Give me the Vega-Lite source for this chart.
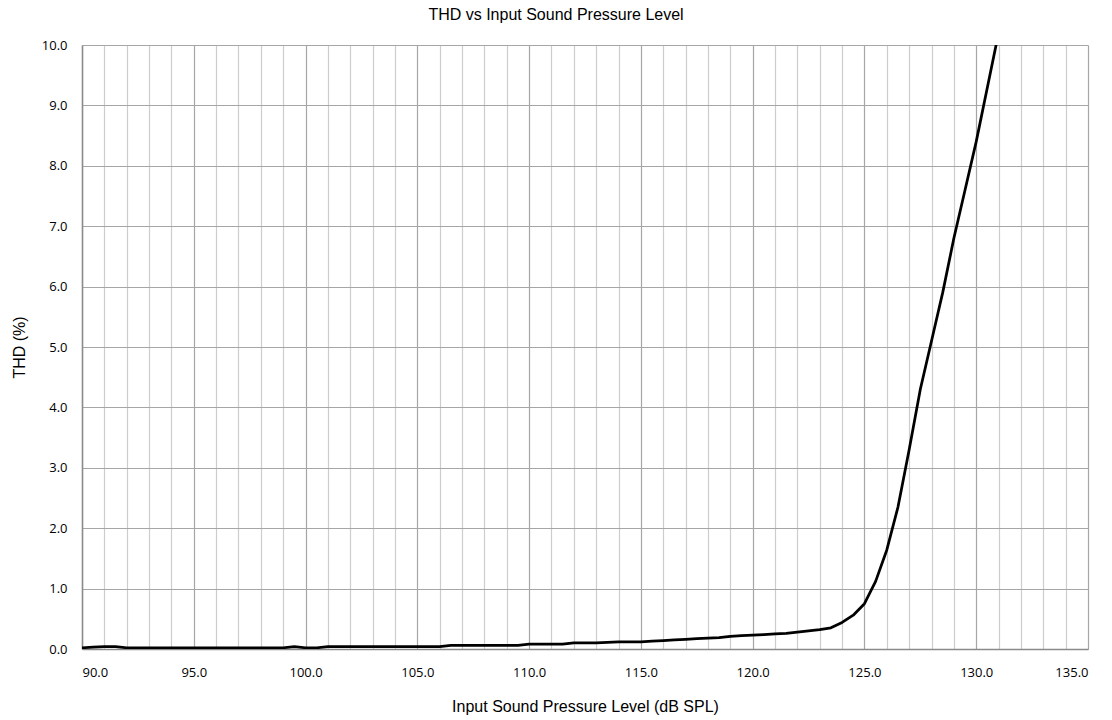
{
  "$schema": "https://vega.github.io/schema/vega-lite/v6.json",
  "width": 1006,
  "height": 604,
  "autosize": {"type": "none"},
  "padding": {"left": 82, "top": 45, "right": 24, "bottom": 71},
  "background": "white",
  "title": {
    "text": "THD vs Input Sound Pressure Level",
    "font": "Liberation Sans",
    "fontSize": 16,
    "fontWeight": "normal",
    "color": "black",
    "anchor": "middle",
    "frame": "group",
    "dx": -29,
    "offset": 16
  },
  "config": {
    "view": {"stroke": null},
    "axis": {
      "labelFont": "Open Sans",
      "labelFontSize": 13,
      "labelColor": "black",
      "titleFont": "Liberation Sans",
      "titleFontSize": 16,
      "titleFontWeight": "normal",
      "titleColor": "black",
      "ticks": false,
      "domainColor": "#8a8a8a",
      "domainWidth": 1.5
    }
  },
  "data": {
    "values": [
      {"spl": 90.0, "thd": 0.02},
      {"spl": 90.5, "thd": 0.03},
      {"spl": 91.0, "thd": 0.04},
      {"spl": 91.5, "thd": 0.04},
      {"spl": 92.0, "thd": 0.02},
      {"spl": 92.5, "thd": 0.02},
      {"spl": 93.0, "thd": 0.02},
      {"spl": 93.5, "thd": 0.02},
      {"spl": 94.0, "thd": 0.02},
      {"spl": 94.5, "thd": 0.02},
      {"spl": 95.0, "thd": 0.02},
      {"spl": 95.5, "thd": 0.02},
      {"spl": 96.0, "thd": 0.02},
      {"spl": 96.5, "thd": 0.02},
      {"spl": 97.0, "thd": 0.02},
      {"spl": 97.5, "thd": 0.02},
      {"spl": 98.0, "thd": 0.02},
      {"spl": 98.5, "thd": 0.02},
      {"spl": 99.0, "thd": 0.02},
      {"spl": 99.5, "thd": 0.04},
      {"spl": 100.0, "thd": 0.02},
      {"spl": 100.5, "thd": 0.02},
      {"spl": 101.0, "thd": 0.04},
      {"spl": 101.5, "thd": 0.04},
      {"spl": 102.0, "thd": 0.04},
      {"spl": 102.5, "thd": 0.04},
      {"spl": 103.0, "thd": 0.04},
      {"spl": 103.5, "thd": 0.04},
      {"spl": 104.0, "thd": 0.04},
      {"spl": 104.5, "thd": 0.04},
      {"spl": 105.0, "thd": 0.04},
      {"spl": 105.5, "thd": 0.04},
      {"spl": 106.0, "thd": 0.04},
      {"spl": 106.5, "thd": 0.06},
      {"spl": 107.0, "thd": 0.06},
      {"spl": 107.5, "thd": 0.06},
      {"spl": 108.0, "thd": 0.06},
      {"spl": 108.5, "thd": 0.06},
      {"spl": 109.0, "thd": 0.06},
      {"spl": 109.5, "thd": 0.06},
      {"spl": 110.0, "thd": 0.08},
      {"spl": 110.5, "thd": 0.08},
      {"spl": 111.0, "thd": 0.08},
      {"spl": 111.5, "thd": 0.08},
      {"spl": 112.0, "thd": 0.10},
      {"spl": 112.5, "thd": 0.10},
      {"spl": 113.0, "thd": 0.10},
      {"spl": 113.5, "thd": 0.11},
      {"spl": 114.0, "thd": 0.12},
      {"spl": 114.5, "thd": 0.12},
      {"spl": 115.0, "thd": 0.12},
      {"spl": 115.5, "thd": 0.13},
      {"spl": 116.0, "thd": 0.14},
      {"spl": 116.5, "thd": 0.15},
      {"spl": 117.0, "thd": 0.16},
      {"spl": 117.5, "thd": 0.17},
      {"spl": 118.0, "thd": 0.18},
      {"spl": 118.5, "thd": 0.19},
      {"spl": 119.0, "thd": 0.21},
      {"spl": 119.5, "thd": 0.22},
      {"spl": 120.0, "thd": 0.23},
      {"spl": 120.5, "thd": 0.24},
      {"spl": 121.0, "thd": 0.25},
      {"spl": 121.5, "thd": 0.26},
      {"spl": 122.0, "thd": 0.28},
      {"spl": 122.5, "thd": 0.30},
      {"spl": 123.0, "thd": 0.32},
      {"spl": 123.5, "thd": 0.35},
      {"spl": 124.0, "thd": 0.44},
      {"spl": 124.5, "thd": 0.56},
      {"spl": 125.0, "thd": 0.75},
      {"spl": 125.5, "thd": 1.12},
      {"spl": 126.0, "thd": 1.64},
      {"spl": 126.5, "thd": 2.35},
      {"spl": 127.0, "thd": 3.3},
      {"spl": 127.5, "thd": 4.3},
      {"spl": 128.0, "thd": 5.1},
      {"spl": 128.5, "thd": 5.9},
      {"spl": 129.0, "thd": 6.8},
      {"spl": 129.5, "thd": 7.6},
      {"spl": 130.0, "thd": 8.4},
      {"spl": 130.5, "thd": 9.3},
      {"spl": 131.0, "thd": 10.2}
    ]
  },
  "mark": {"type": "line", "color": "black", "strokeWidth": 2.75, "clip": true, "strokeJoin": "round"},
  "encoding": {
    "x": {
      "field": "spl",
      "type": "quantitative",
      "scale": {"domain": [90, 135], "nice": false, "zero": false},
      "axis": {
        "title": "Input Sound Pressure Level (dB SPL)",
        "values": [90,91,92,93,94,95,96,97,98,99,100,101,102,103,104,105,106,107,108,109,110,111,112,113,114,115,116,117,118,119,120,121,122,123,124,125,126,127,128,129,130,131,132,133,134,135],
        "labelExpr": "datum.value % 5 === 0 ? format(datum.value, '.1f') : ''",
        "labelOverlap": false,
        "labelPadding": 17,
        "titlePadding": 19,
        "grid": true,
        "gridColor": {"condition": {"test": "datum.value % 5 === 0", "value": "#a6a6a6"}, "value": "#cdcdcd"},
        "gridWidth": 1.2
      }
    },
    "y": {
      "field": "thd",
      "type": "quantitative",
      "scale": {"domain": [0, 10], "nice": false},
      "axis": {
        "title": "THD (%)",
        "values": [0,1,2,3,4,5,6,7,8,9,10],
        "format": ".1f",
        "labelPadding": 15,
        "titlePadding": 14,
        "grid": true,
        "gridColor": "#a6a6a6",
        "gridWidth": 1.2
      }
    }
  }
}
